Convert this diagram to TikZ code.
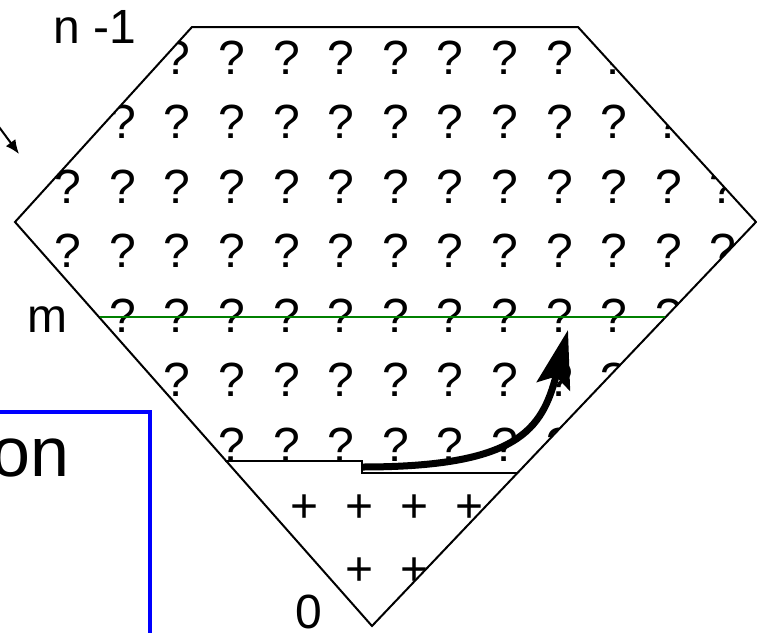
\documentclass[tikz,border=0pt]{standalone}
\usepackage{fontspec}
\setmainfont{Liberation Sans}
\usepackage{tikz}
\usetikzlibrary{
    arrows.meta,
    positioning,
    calc
}
\tikzset{
    outline/.style={
        draw=black,
        line width=1pt
    },
    levelline/.style={
        draw=green!50!black,
        line width=1.1pt
    },
    stepline/.style={
        draw=black,
        line width=0.8pt
    },
    qmark/.style={
        inner sep=0pt,
        anchor=base,
        font=\fontsize{24}{24}\selectfont
    },
    pmark/.style={
        inner sep=0pt,
        anchor=base,
        font=\fontsize{24}{24}\selectfont
    },
    sidetext/.style={
        inner sep=0pt,
        anchor=base west,
        font=\fontsize{24}{24}\selectfont
    },
    bigarrow/.style={
        -{Stealth[length=29pt, width=17pt, inset=5pt]},
        line width=3.5pt
    },
    smallarrow/.style={
        -{Latex[length=7pt, width=6pt]},
        line width=1pt
    },
    bluebox/.style={
        draw=blue,
        line width=2pt
    }
}

\begin{document}
\begin{tikzpicture}[x=0.5pt, y=-0.5pt]
\useasboundingbox (0,0) rectangle (757,633);

% corners of the region
\coordinate (tl) at (192,27);
\coordinate (tr) at (578,27);
\coordinate (lv) at (15,222);
\coordinate (rv) at (756,222);
\coordinate (bv) at (372,626);

\begin{scope}
\clip (tl) -- (tr) -- (rv) -- (bv) -- (lv) -- cycle;
\foreach \r in {0,...,6}
    \foreach \k in {0,...,12}
        \node[qmark] at ({68+54.6*\k},{74+64.5*\r}) {?};
\foreach \r in {0,1}
    \foreach \k in {0,...,5}
        \node[pmark] at ({250+55*\k},{522+63*\r}) {+};
\end{scope}

\draw[outline] (tl) -- (tr) -- (rv) -- (bv) -- (lv) -- cycle;

% level m
\coordinate (ml) at (100,317);
\coordinate (mr) at (665,317);
\draw[levelline] (ml) -- (mr);

% frontier of the + part
\coordinate (sa) at (225,461);
\coordinate (sb) at (362,461);
\coordinate (sc) at (362,473);
\coordinate (sd) at (518,473);
\draw[stepline] (sa) -- (sb) -- (sc) -- (sd);

\coordinate (go) at (362,467);
\coordinate (up) at (568,330);
\draw[bigarrow] (go) .. controls (518,467) and (542,430) .. (up);

\node[sidetext] (top) at (53,43) {n -1};
\node[sidetext] (lvl) at (27,332) {m};
\node[sidetext] (zero) at (295,628) {0};

\coordinate (pa) at (-15,108);
\coordinate (pb) at (19,154);
\draw[smallarrow] (pa) -- (pb);

\draw[bluebox] (-20,412) rectangle (150,660);
\node[inner sep=0pt, anchor=base east, font=\fontsize{35}{35}\selectfont] (cap) at (70,476) {on};
\end{tikzpicture}
\end{document}
